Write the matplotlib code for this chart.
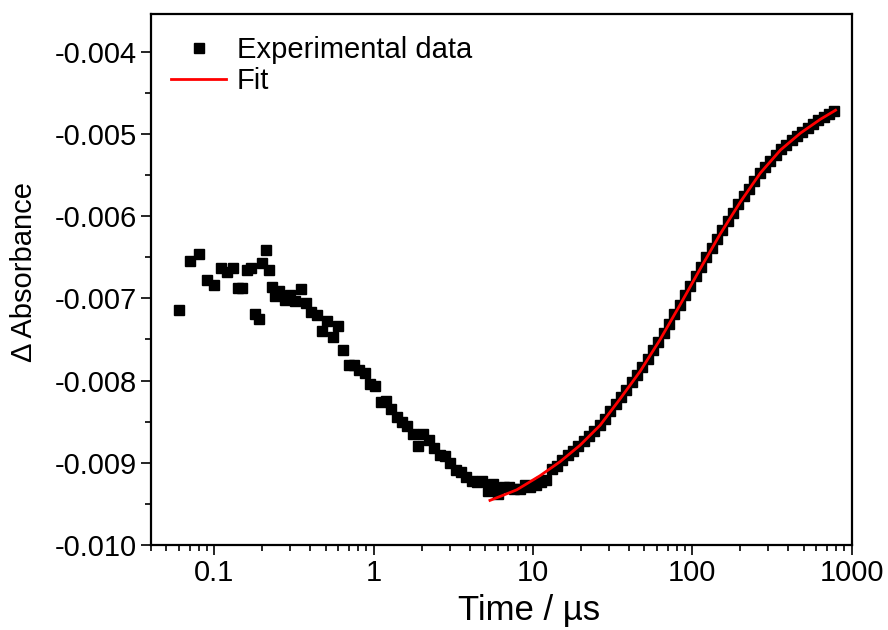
import matplotlib
matplotlib.use("Agg")
import matplotlib.pyplot as plt
from matplotlib.ticker import FixedLocator, FuncFormatter, LogLocator, NullFormatter, MultipleLocator
import numpy as np

plt.rcParams['font.family'] = ['Liberation Sans', 'DejaVu Sans']
plt.rcParams['axes.unicode_minus'] = False

# experimental transient (time in us, delta absorbance)
time_us = [
    0.06, 0.07, 0.08, 0.09, 0.10, 0.11, 0.12, 0.13, 0.14, 0.15,
    0.16, 0.17, 0.18, 0.19, 0.20, 0.21, 0.22, 0.23, 0.24,
    0.256, 0.2765, 0.2987, 0.3226, 0.3485, 0.3764, 0.4066, 0.4392, 0.4744, 0.5124,
    0.5535, 0.5979, 0.6458, 0.6976, 0.7535, 0.8139, 0.8792, 0.9499, 1.026, 1.108,
    1.197, 1.293, 1.397, 1.509, 1.630, 1.761, 1.902, 2.055, 2.219, 2.397,
    2.590, 2.797, 3.022, 3.264, 3.526, 3.808, 4.114, 4.444, 4.800, 5.185,
    5.601, 6.050, 6.535, 7.060, 7.626, 8.237, 8.898, 9.610, 10.38, 11.21,
    12.11, 13.08, 14.13, 15.27, 16.49, 17.81, 19.24, 20.78, 22.45, 24.25,
    26.19, 28.29, 30.56, 33.01, 35.66, 38.52, 41.61, 44.94, 48.55, 52.44,
    56.65, 61.19, 66.10, 71.40, 77.13, 83.31, 89.99, 97.21, 105.0, 113.4,
    122.5, 132.3, 143.0, 154.4, 166.8, 180.2, 194.7, 210.3, 227.1, 245.3,
    265.0, 286.3, 309.2, 334.0, 360.8, 389.7, 421.0, 454.8, 491.2, 530.6,
    573.1, 619.1, 668.8, 722.4, 780.3,
]

absorbance = [
    -0.007139, -0.006542, -0.006464, -0.006779, -0.006836, -0.006627, -0.006675, -0.006634, -0.006876, -0.006876,
    -0.006651, -0.006634, -0.007192, -0.007257, -0.006570, -0.006416, -0.006658, -0.006861, -0.006973,
    -0.006909, -0.007022, -0.006958, -0.007030, -0.006881, -0.007055, -0.007167, -0.007208, -0.007394, -0.007273,
    -0.007475, -0.007333, -0.007624, -0.007806, -0.007806, -0.007873, -0.007903, -0.008048, -0.008061, -0.008267,
    -0.008251, -0.008348, -0.008445, -0.008509, -0.008558, -0.008646, -0.008792, -0.008646, -0.008727, -0.008816,
    -0.008905, -0.008913, -0.009002, -0.009091, -0.009107, -0.009179, -0.009228, -0.009236, -0.009228, -0.009349,
    -0.009261, -0.009382, -0.009293, -0.009293, -0.009325, -0.009325, -0.009276, -0.009301, -0.009276, -0.009236,
    -0.009212, -0.009075, -0.009040, -0.008962, -0.008909, -0.008855, -0.008801, -0.008741, -0.008676, -0.008611,
    -0.008547, -0.008462, -0.008375, -0.008290, -0.008204, -0.008113, -0.008024, -0.007936, -0.007841, -0.007736,
    -0.007633, -0.007531, -0.007419, -0.007307, -0.007194, -0.007080, -0.006964, -0.006848, -0.006732, -0.006616,
    -0.006503, -0.006390, -0.006276, -0.006168, -0.006065, -0.005961, -0.005858, -0.005761, -0.005669, -0.005575,
    -0.005480, -0.005406, -0.005330, -0.005256, -0.005187, -0.005131, -0.005076, -0.005021, -0.004971, -0.004925,
    -0.004880, -0.004835, -0.004794, -0.004755, -0.004716,
]

# fitted curve
fit_time = [5.37, 6.20, 7.90, 11.07, 14.78, 19.75, 26.39, 35.26, 47.10, 62.92,
            84.06, 112.3, 150.0, 200.4, 267.7, 357.7, 477.9, 638.3, 793.3]
fit_abs = [-0.009458, -0.009411, -0.009330, -0.009158, -0.008988, -0.008787, -0.008544,
           -0.008222, -0.007887, -0.007499, -0.007075, -0.006639, -0.006215, -0.005827,
           -0.005475, -0.005196, -0.004990, -0.004821, -0.004712]

x_ticks = [0.1, 1, 10, 100, 1000]
x_tick_labels = ["0.1", "1", "10", "100", "1000"]
y_ticks = [-0.010, -0.009, -0.008, -0.007, -0.006, -0.005, -0.004]


def Draw_Chart():
    fig = plt.figure(figsize=(8.88, 6.30), dpi=100)
    ax = fig.add_axes([0.170, 0.135, 0.789, 0.843])

    ax.plot(time_us, absorbance, linestyle='none', marker='s', markersize=6.5,
            color='black', label='Experimental data')
    ax.plot(fit_time, fit_abs, color='red', linewidth=2.0, label='Fit')

    ax.set_xscale('log')
    ax.set_xlim(0.04, 1000)
    ax.set_ylim(-0.010, -0.00354)

    ax.xaxis.set_major_locator(FixedLocator(x_ticks))
    ax.xaxis.set_major_formatter(FuncFormatter(lambda v, p: x_tick_labels[x_ticks.index(v)] if v in x_ticks else ""))
    ax.xaxis.set_minor_locator(LogLocator(base=10, subs=np.arange(2, 10), numticks=20))
    ax.xaxis.set_minor_formatter(NullFormatter())

    ax.yaxis.set_major_locator(FixedLocator(y_ticks))
    ax.yaxis.set_major_formatter(FuncFormatter(lambda v, p: "%.3f" % v))
    ax.yaxis.set_minor_locator(MultipleLocator(0.0005))

    for side in ['left', 'right', 'top', 'bottom']:
        ax.spines[side].set_linewidth(1.6)
    ax.tick_params(which='major', direction='out', length=7, width=1.2, labelsize=21, pad=3)
    ax.tick_params(which='minor', direction='out', length=4.3, width=1.2)
    ax.tick_params(top=False, right=False, which='both')

    ax.set_xlabel('Time / µs', fontsize=25, labelpad=5)
    ax.xaxis.label.set_x(0.539)
    ax.set_ylabel('Δ Absorbance', fontsize=21, labelpad=12)
    ax.yaxis.label.set_y(0.514)

    ax.legend(loc='upper left', bbox_to_anchor=(0.012, 0.98), borderaxespad=0,
              frameon=False, fontsize=21, numpoints=1,
              handlelength=1.9, handletextpad=0.35, labelspacing=0.1)

    fig.savefig('out.png', dpi=100)


if __name__ == '__main__':
    Draw_Chart()
